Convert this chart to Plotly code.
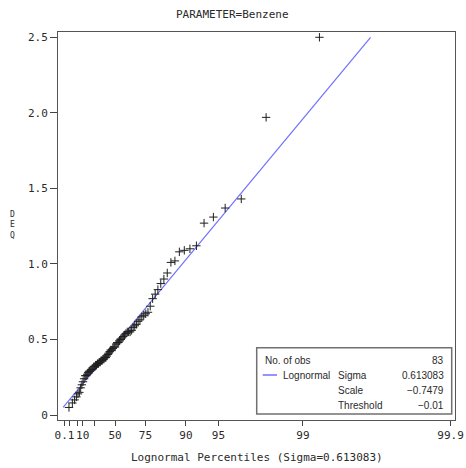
import math
from statistics import NormalDist
import plotly.graph_objects as go

# Benzene DEQ concentrations, sorted ascending (83 observations)
deq_values = [
    0.05, 0.08, 0.10, 0.12, 0.14, 0.15, 0.18, 0.20, 0.22, 0.24,
    0.26, 0.26, 0.27, 0.28, 0.29, 0.29, 0.30, 0.30, 0.31, 0.32,
    0.32, 0.33, 0.33, 0.34, 0.34, 0.35, 0.35, 0.36, 0.36, 0.37,
    0.37, 0.38, 0.38, 0.39, 0.40, 0.41, 0.42, 0.43, 0.43, 0.44,
    0.45, 0.45, 0.47, 0.48, 0.48, 0.49, 0.50, 0.51, 0.52, 0.53,
    0.54, 0.55, 0.55, 0.55, 0.56, 0.58, 0.59, 0.60, 0.62, 0.63,
    0.65, 0.66, 0.67, 0.68, 0.72, 0.77, 0.80, 0.83, 0.87, 0.90,
    0.94, 1.01, 1.02, 1.08, 1.09, 1.10, 1.12, 1.27, 1.31, 1.37,
    1.43, 1.97, 2.50,
]

# Fitted lognormal parameters
sigma = 0.613083
scale_zeta = -0.7479
threshold = -0.01

# Percentile axis ticks (crowded low percentiles left unlabeled)
pct_ticks = [0.1, 1, 5, 10, 25, 50, 75, 90, 95, 99, 99.9]
pct_labels = ["0.1", "", "", "10", "", "50", "75", "90", "95", "99", "99.9"]

y_ticks = [0, 0.5, 1.0, 1.5, 2.0, 2.5]
y_tick_labels = ["0", "0.5", "1.0", "1.5", "2.0", "2.5"]

# Span of the fitted reference line, in DEQ units
line_y_span = [0.05, 2.5]

nd = NormalDist()


def lognormal_q(p):
    """Position on the lognormal percentile axis for probability p."""
    return math.exp(sigma * nd.inv_cdf(p))


n_obs = len(deq_values)
x_pts = [lognormal_q((i - 0.375) / (n_obs + 0.25)) for i in range(1, n_obs + 1)]

scale = math.exp(scale_zeta)
line_x = [(y - threshold) / scale for y in line_y_span]
line_y = [threshold + scale * x for x in line_x]

MONO = "DejaVu Sans Mono"
SANS = "Liberation Sans"
TXT = "#2a2a2a"

# plot frame in pixels
W, H = 466, 468
L, R, T, B = 58, 455, 32, 420


def xp(px):
    return (px - L) / (R - L)


def yp(py):
    return (B - py) / (B - T)


fig = go.Figure()

fig.add_trace(go.Scatter(
    x=line_x, y=line_y, mode="lines",
    line=dict(color="#7070ff", width=1.2),
    showlegend=False, hoverinfo="skip",
))

fig.add_trace(go.Scatter(
    x=x_pts, y=deq_values, mode="markers",
    marker=dict(symbol="cross-thin", size=6,
                line=dict(color="#1e1e1e", width=1)),
    showlegend=False,
))

annotations = []

# title
annotations.append(dict(
    text="PARAMETER=Benzene", x=xp(232), y=yp(15), xref="paper", yref="paper",
    showarrow=False, xanchor="center", yanchor="middle",
    font=dict(family=MONO, size=11, color=TXT),
))

# x axis title
annotations.append(dict(
    text=f"Lognormal Percentiles (Sigma={sigma})", x=xp(257), y=yp(457),
    xref="paper", yref="paper", showarrow=False, xanchor="center",
    yanchor="middle", font=dict(family=MONO, size=11, color=TXT),
))

# stacked vertical axis label
annotations.append(dict(
    text="D<br>E<br>Q", x=xp(12.5), y=yp(225), xref="paper", yref="paper",
    showarrow=False, xanchor="center", yanchor="middle",
    font=dict(family=MONO, size=8, color=TXT),
))

# inset statistics table
inset_rows = [
    ("No. of obs", 262.7, str(n_obs), 360),
    ("Lognormal", 280.7, None, 375),
    ("Sigma", 336, f"{sigma}", 375),
    ("Scale", 336, f"{scale_zeta}".replace("-", "\u2212"), 390),
    ("Threshold", 336, f"{threshold}".replace("-", "\u2212"), 405.5),
]
for label, lx, val, py in inset_rows:
    annotations.append(dict(
        text=label, x=xp(lx), y=yp(py), xref="paper", yref="paper",
        showarrow=False, xanchor="left", yanchor="middle",
        font=dict(family=SANS, size=10, color=TXT),
    ))
    if val is not None:
        annotations.append(dict(
            text=val, x=xp(445.5), y=yp(py), xref="paper", yref="paper",
            showarrow=False, xanchor="right", yanchor="middle",
            font=dict(family=SANS, size=10, color=TXT),
        ))

shapes = [
    dict(type="rect", xref="paper", yref="paper",
         x0=xp(256.7), x1=xp(451.7), y0=yp(414), y1=yp(347.7),
         line=dict(color="#707070", width=1.5), fillcolor="white", layer="below"),
    dict(type="line", xref="paper", yref="paper",
         x0=xp(262.7), x1=xp(277), y0=yp(375), y1=yp(375),
         line=dict(color="#7070ff", width=1.5)),
]

fig.update_layout(
    width=W, height=H,
    margin=dict(l=L, r=W - R, t=T, b=H - B, pad=0, autoexpand=False),
    paper_bgcolor="white", plot_bgcolor="white",
    showlegend=False,
    annotations=annotations,
    shapes=shapes,
    xaxis=dict(
        range=[0.0404, 6.724], automargin=False,
        tickvals=[lognormal_q(p / 100) for p in pct_ticks],
        ticktext=pct_labels, tickangle=0,
        tickfont=dict(family=MONO, size=11, color=TXT),
        ticks="outside", ticklen=5, tickwidth=1, tickcolor="#444",
        showline=True, mirror=True, linecolor="#555", linewidth=1,
        showgrid=False, zeroline=False,
    ),
    yaxis=dict(
        range=[-0.033, 2.535], automargin=False,
        tickvals=y_ticks, ticktext=y_tick_labels,
        tickfont=dict(family=MONO, size=11, color=TXT),
        ticks="outside", ticklen=7, tickwidth=1, tickcolor="#444",
        showline=True, mirror=True, linecolor="#555", linewidth=1,
        showgrid=False, zeroline=False,
    ),
)

fig.write_html("out.html")
